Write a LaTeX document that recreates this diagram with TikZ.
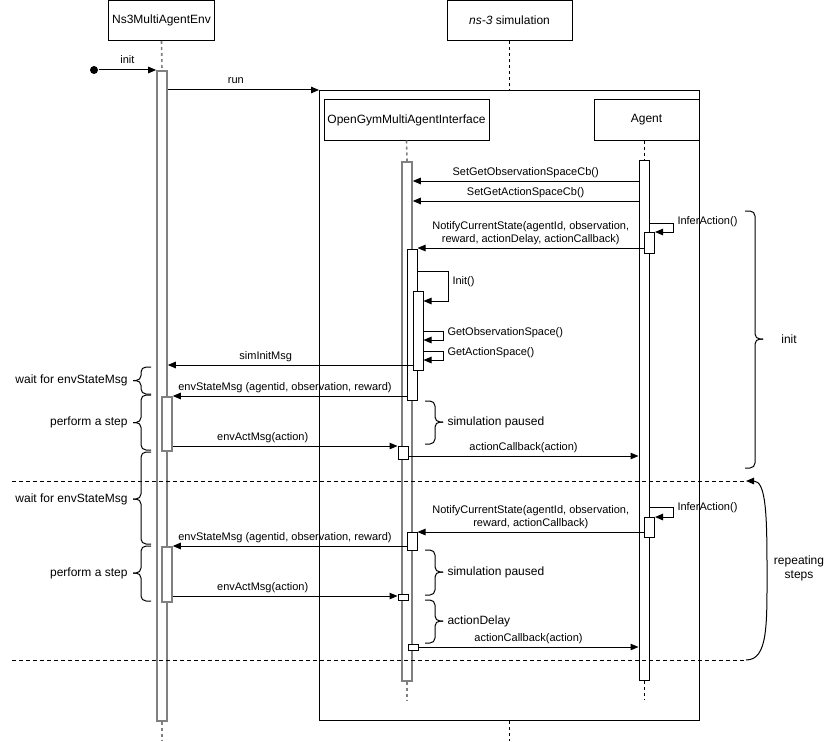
\documentclass[tikz,border=0pt]{standalone}
\usepackage{fontspec}
\setmainfont{Liberation Sans}
\usetikzlibrary{arrows.meta}

\newcommand{\curlyL}[4]{% x of the ends, top, bottom, middle
  \draw[rounded corners=5pt] (#1,#2) -- (#1-10,#2) -- (#1-10,#4) -- (#1-18,#4);
  \draw[rounded corners=5pt] (#1,#3) -- (#1-10,#3) -- (#1-10,#4) -- (#1-18,#4);}
\newcommand{\curlyR}[4]{%
  \draw[rounded corners=5pt] (#1,#2) -- (#1+10,#2) -- (#1+10,#4) -- (#1+18,#4);
  \draw[rounded corners=5pt] (#1,#3) -- (#1+10,#3) -- (#1+10,#4) -- (#1+18,#4);}

\begin{document}
\begin{tikzpicture}[x=1pt,y=-1pt,line width=1pt,
    head/.style={draw,fill=white,minimum height=40pt,font=\fontsize{12}{14}\selectfont},
    bar/.style={draw,fill=white,minimum width=10pt,inner sep=0pt,anchor=north},
    gbar/.style={bar,draw=gray,line width=1.6pt},
    life/.style={dash pattern=on 3pt off 3pt},
    glife/.style={life,draw=gray,line width=1.6pt},
    msg/.style={-{Triangle[length=8pt,width=6.5pt]}},
    lbl/.style={font=\fontsize{11}{13}\selectfont,inner sep=1pt,above=2pt,text height=8pt,text depth=2.5pt},
    note/.style={font=\fontsize{12}{14}\selectfont,inner sep=1pt},
    sep/.style={dash pattern=on 4pt off 3pt}]

         \useasboundingbox (0,0) rectangle (834,741);

         \node[draw,minimum width=380pt,minimum height=630pt,anchor=north west] at (319,90) (sim) {};

         \node[head,minimum width=105pt] at (161.5,20.5) (env) {Ns3MultiAgentEnv};
         \node[head,minimum width=125pt] at (509.5,20.5) (ns3) {\textit{ns-3} simulation};
         \node[head,minimum width=165pt] at (406.5,120) (ogi) {OpenGymMultiAgentInterface};
         \node[head,minimum width=105pt] at (646.5,120) (agent) {Agent};

         \coordinate (envEnd) at (162,741);
         \coordinate (simEnd) at (509.5,741);
         \coordinate (ogiEnd) at (407,700);
         \coordinate (agEnd) at (644,700);

         \node[gbar,minimum height=650pt] at (162,70) (envA) {};
         \node[gbar,minimum height=54pt] at (167,396) (envB) {};
         \node[gbar,minimum height=55pt] at (167,546) (envC) {};
         \node[gbar,minimum height=519pt] at (407,161) (ogiA) {};
         \node[bar,minimum height=151pt] at (412,249) (ogiB) {};
         \node[bar,minimum height=79pt] at (418,291) (ogiC) {};
         \node[bar,minimum height=13pt] at (403,446) (ogiD) {};
         \node[bar,minimum height=18pt] at (412,532) (ogiE) {};
         \node[bar,minimum height=6pt] at (403,594) (ogiF) {};
         \node[bar,minimum height=6pt] at (413,644) (ogiG) {};
         \node[bar,minimum height=520pt] at (644,160) (agA) {};
         \node[bar,minimum height=21pt] at (649.5,232) (agB) {};
         \node[bar,minimum height=20pt] at (649.5,517) (agC) {};

         \draw[glife] (env.south) -- (envA.north);
         \draw[glife] (envA.south) -- (envEnd);
         \draw[life] (ns3.south) -- (sim.north);
         \draw[life] (sim.south) -- (simEnd);
         \draw[glife] (ogi.south) -- (ogiA.north);
         \draw[glife] (ogiA.south) -- (ogiEnd);
         \draw[life] (agA.north |- agent.south) -- (agA.north);
         \draw[life] (agA.south) -- (agEnd);

         \node[circle,fill,minimum size=8pt,inner sep=0pt] at (94,70) (start) {};
         \draw[msg] (start) -- node[lbl] (lInit) {init} (envA.north west);
         \draw[msg] (envA.east |- sim.north) -- node[lbl,pos=0.45] (lRun) {run} (sim.north west);

         \draw[msg] (agA.west |- 0,181) -- node[lbl] (lObsCb) {SetGetObservationSpaceCb()} (ogiA.east |- 0,181);
         \draw[msg] (agA.west |- 0,201) -- node[lbl] (lActCb) {SetGetActionSpaceCb()} (ogiA.east |- 0,201);
         \draw[msg] (agA.east |- 0,223) -- ++(24,0) |- (agB.east |- 0,232);
         \node[lbl,anchor=west] at (676,224) (lInferA) {InferAction()};
         \draw[msg] (agB.west |- 0,248) -- node[lbl,align=center] (lNotifyA) {NotifyCurrentState(agentId, observation,\\ reward, actionDelay, actionCallback)} (ogiB.east |- 0,248);
         \draw[msg] (ogiB.east |- 0,271) -- ++(31,0) |- (ogiC.east |- 0,301);
         \node[lbl,anchor=west] at (451,284) (lInit2) {Init()};
         \draw[msg] (ogiC.east |- 0,331) -- ++(20,0) |- (ogiC.east |- 0,340);
         \node[lbl,anchor=west] at (446,334.5) (lObs) {GetObservationSpace()};
         \draw[msg] (ogiC.east |- 0,351) -- ++(20,0) |- (ogiC.east |- 0,360);
         \node[lbl,anchor=west] at (446,354.5) (lAct) {GetActionSpace()};
         \draw[msg] (ogiC.west |- 0,365) -- node[lbl,pos=0.6] (lSimInit) {simInitMsg} (envA.east |- 0,365);
         \draw[msg] (ogiB.west |- 0,396) -- node[lbl,pos=0.52] (lStateA) {envStateMsg (agentid, observation, reward)} (envB.east |- 0,396);
         \draw[msg] (envB.east |- 0,446) -- node[lbl,pos=0.4] (lActA) {envActMsg(action)} (ogiD.west |- 0,446);
         \draw[msg] (ogiD.east |- 0,456) -- node[lbl] (lCbA) {actionCallback(action)} (agA.west |- 0,456);

         \draw[msg] (agA.east |- 0,507) -- ++(24,0) |- (agC.east |- 0,517);
         \node[lbl,anchor=west] at (676,510) (lInferB) {InferAction()};
         \draw[msg] (agC.west |- 0,532) -- node[lbl,align=center] (lNotifyB) {NotifyCurrentState(agentId, observation,\\ reward, actionCallback)} (ogiE.east |- 0,532);
         \draw[msg] (ogiE.west |- 0,546) -- node[lbl,pos=0.52] (lStateB) {envStateMsg (agentid, observation, reward)} (envC.east |- 0,546);
         \draw[msg] (envC.east |- 0,596) -- node[lbl,pos=0.4] (lActB) {envActMsg(action)} (ogiF.west |- 0,596);
         \draw[msg] (ogiG.east |- 0,647) -- node[lbl] (lCbB) {actionCallback(action)} (agA.west |- 0,647);

         \coordinate (sepAl) at (12,481);
         \coordinate (sepAr) at (746,481);
         \coordinate (sepBl) at (12,660);
         \coordinate (sepBr) at (746,660);
         \draw[sep] (sepAl) -- (sepAr);
         \draw[sep] (sepBl) -- (sepBr);
         \draw[msg] (sepBr) .. controls (768,660) and (767,625) .. (767,570)
                            .. controls (767,515) and (766,481) .. (sepAr);
         \node[note,align=center] at (799,568) (repeat) {repeating\\steps};

         \curlyL{151}{367}{394}{380.5}
         \curlyL{151}{395}{450}{422.5}
         \curlyL{151}{452}{544}{499}
         \curlyL{151}{546}{601}{573}
         \node[note,anchor=east] at (129,380.5) (waitA) {wait for envStateMsg};
         \node[note,anchor=east] at (129,422.5) (stepA) {perform a step};
         \node[note,anchor=east] at (129,499) (waitB) {wait for envStateMsg};
         \node[note,anchor=east] at (129,573) (stepB) {perform a step};

         \curlyR{425}{401}{444}{422}
         \curlyR{425}{550}{595}{572}
         \curlyR{425}{600}{643}{621}
         \curlyR{745}{211}{468}{339}
         \node[note,anchor=west] at (446,422) (pauseA) {simulation paused};
         \node[note,anchor=west] at (446,572) (pauseB) {simulation paused};
         \node[note,anchor=west] at (446,621) (delay) {actionDelay};
         \node[note] at (789,339) (init) {init};
      \end{tikzpicture}
\end{document}
